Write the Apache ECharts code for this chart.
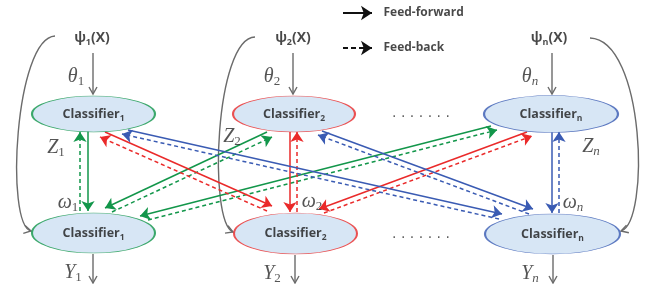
<!DOCTYPE html>
<html>
<head>
<meta charset="utf-8">
<script src="https://cdn.jsdelivr.net/npm/echarts@6/dist/echarts.min.js"></script>
<style>
  html, body { margin: 0; padding: 0; background: #fff; }
  #chart { width: 647px; height: 284px; }
</style>
</head>
<body>
<div id="chart"></div>
<script>
// classifier index subscripts and colours
const subs = ['1', '2', 'n'];
const colors = ['#12964a', '#ea2a2a', '#3a5bb3'];
const gray = '#6b6b6b';

// ellipse centres (diagram coordinates)
const topNodes = [[93.5, 114], [294, 114], [551, 114]];
const bottomNodes = [[93.5, 233], [295.5, 233.5], [552.5, 234]];
const topSizes = [[123, 36], [122, 36], [134, 37]];
const bottomSizes = [[123, 40], [123, 41], [135, 40]];

// feed-forward links (solid), grouped by target bottom classifier
const feedForward = [
  [[[88, 131], [88, 211]], [[267, 132], [105, 208]], [[491, 126], [140, 216]]],
  [[[105, 132], [272, 206]], [[290, 132], [290, 212]], [[527, 132], [319, 209]]],
  [[[128, 130], [502, 214]], [[322, 131], [533, 209]], [[552, 132], [552, 213]]],
];
// feed-back links (dashed), grouped by source bottom classifier
const feedBack = [
  [[[80, 211], [80, 132]], [[112, 212], [272, 137]], [[148, 220], [497, 130]]],
  [[[267, 211], [100, 137]], [[297, 212], [297, 132]], [[324, 213], [532, 136]]],
  [[[499, 219], [122, 134]], [[529, 214], [318, 135]], [[559, 213], [559, 132]]],
];

// grey arrows: psi -> top, bottom -> Y
const grayStraight = [
  [93, 53, 93, 94], [293, 53, 293, 94], [552, 53, 552, 94],
  [93, 254, 93, 283], [295, 255, 295, 283], [553, 255, 553, 283],
];
// grey loop curves: start, control 1, control 2, end
const grayCurves = [
  [55, 36, 15, 38, 5, 225, 31, 231],
  [255, 37, 215, 38, 208, 222, 233, 232],
  [590, 38, 645, 40, 650, 222, 621, 231],
];

// text labels
const psiLabels = [[92, 38, '1'], [293, 38, '2'], [549, 38, 'n']];
const thetaLabels = [[76, 77, '1'], [272, 77, '2'], [530, 77, 'n']];
const zLabels = [[56, 148, '1'], [232, 137, '2'], [591, 147, 'n']];
const omegaLabels = [[68, 203, '1'], [312, 202, '2'], [573, 203, 'n']];
const yLabels = [[73, 273, '1'], [272, 274, '2'], [530, 274, 'n']];
const dotLabels = [[421, 113], [421, 234]];
const legendItems = [['Feed-forward', 13, 'solid'], ['Feed-back', 48, 'dashed']];

const chart = echarts.init(document.getElementById('chart'));

const ellipsePath = 'path://M0,50 A50,50 0 1,1 100,50 A50,50 0 1,1 0,50 Z';
const sans = 'Open Sans';

const textRich = {
  c: { fontFamily: sans, fontWeight: 'bold', fontSize: 12.5, color: '#1a1a1a', lineHeight: 18 },
  cs: { fontFamily: sans, fontWeight: 'bold', fontSize: 8.5, color: '#1a1a1a', lineHeight: 8, verticalAlign: 'bottom' },
  p: { fontFamily: sans, fontWeight: 'bold', fontSize: 14, color: '#1a1a1a', lineHeight: 18 },
  ps: { fontFamily: sans, fontWeight: 'bold', fontSize: 9, color: '#1a1a1a', lineHeight: 8, verticalAlign: 'bottom' },
  v: { fontFamily: 'Liberation Serif', fontStyle: 'italic', fontSize: 20, color: '#2a2a2a', lineHeight: 22 },
  s: { fontFamily: 'Liberation Serif', fontSize: 13, color: '#2a2a2a', lineHeight: 10, verticalAlign: 'bottom' },
  si: { fontFamily: 'Liberation Serif', fontStyle: 'italic', fontSize: 13, color: '#2a2a2a', lineHeight: 10, verticalAlign: 'bottom' },
};

function subTag(s) {
  return s === 'n' ? 'si' : 's';
}

function nodeData(nodes, sizes) {
  return nodes.map((p, i) => ({
    value: p,
    symbolSize: sizes[i],
    itemStyle: { borderColor: colors[i] },
    label: { formatter: '{c|Classifier}{cs|' + subs[i] + '}' },
  }));
}

function mathData(list, letter) {
  return list.map((d) => ({
    value: [d[0], d[1]],
    label: { formatter: '{v|' + letter + '}{' + subTag(d[2]) + '|' + d[2] + '}' },
  }));
}

function chevron(from, to, len, half) {
  const dx = to[0] - from[0], dy = to[1] - from[1];
  const l = Math.sqrt(dx * dx + dy * dy);
  const ux = dx / l, uy = dy / l;
  return {
    type: 'polyline',
    shape: {
      points: [
        [to[0] - ux * len - uy * half, to[1] - uy * len + ux * half],
        to,
        [to[0] - ux * len + uy * half, to[1] - uy * len - ux * half],
      ],
    },
    style: { stroke: gray, lineWidth: 1.4, fill: null },
  };
}

const linkSeries = [];
colors.forEach((c, i) => {
  linkSeries.push({
    type: 'lines',
    coordinateSystem: 'cartesian2d',
    symbol: ['none', 'arrow'],
    symbolSize: [7, 10],
    lineStyle: { color: c, width: 1.5, opacity: 1 },
    data: feedForward[i].map((coords) => ({ coords })),
    z: 2,
  });
  linkSeries.push({
    type: 'lines',
    coordinateSystem: 'cartesian2d',
    symbol: ['none', 'arrow'],
    symbolSize: [7, 10],
    lineStyle: { color: c, width: 1.5, opacity: 1, type: [4, 3] },
    data: feedBack[i].map((coords) => ({ coords })),
    z: 2,
  });
});

const option = {
  animation: false,
  grid: { left: 0, right: 0, top: 0, bottom: 0 },
  xAxis: { type: 'value', min: 0, max: 647, show: false },
  yAxis: { type: 'value', min: 0, max: 284, inverse: true, show: false },
  series: [
    ...linkSeries,
    {
      type: 'custom',
      coordinateSystem: 'cartesian2d',
      data: grayStraight,
      renderItem: (params, api) => {
        const a = api.coord([api.value(0), api.value(1)]);
        const b = api.coord([api.value(2), api.value(3)]);
        return {
          type: 'group',
          children: [
            { type: 'line', shape: { x1: a[0], y1: a[1], x2: b[0], y2: b[1] }, style: { stroke: gray, lineWidth: 1.4 } },
            chevron(a, b, 7, 4),
          ],
        };
      },
      z: 2,
    },
    {
      type: 'custom',
      coordinateSystem: 'cartesian2d',
      data: grayCurves,
      renderItem: (params, api) => {
        const p = [0, 2, 4, 6].map((k) => api.coord([api.value(k), api.value(k + 1)]));
        return {
          type: 'group',
          children: [
            {
              type: 'bezierCurve',
              shape: {
                x1: p[0][0], y1: p[0][1], cpx1: p[1][0], cpy1: p[1][1],
                cpx2: p[2][0], cpy2: p[2][1], x2: p[3][0], y2: p[3][1],
              },
              style: { stroke: gray, lineWidth: 1.4, fill: null },
            },
            chevron(p[2], p[3], 7, 4),
          ],
        };
      },
      z: 1,
    },
    {
      type: 'scatter',
      symbol: ellipsePath,
      data: nodeData(topNodes, topSizes).concat(nodeData(bottomNodes, bottomSizes)),
      itemStyle: { color: '#cde0f2', borderWidth: 1.2 },
      label: { show: true, position: 'inside', rich: textRich },
      z: 5,
    },
    {
      type: 'scatter',
      symbolSize: 1,
      itemStyle: { color: 'rgba(0,0,0,0)' },
      label: { show: true, position: 'inside', rich: textRich },
      data: [
        ...psiLabels.map((d) => ({
          value: [d[0], d[1]],
          label: { formatter: '{p|ψ}{ps|' + d[2] + '}{p|(X)}' },
        })),
        ...mathData(thetaLabels, 'θ'),
        ...mathData(zLabels, 'Z'),
        ...mathData(omegaLabels, 'ω'),
        ...mathData(yLabels, 'Y'),
        ...dotLabels.map((d) => ({
          value: d,
          label: { formatter: '. . . . . . .', fontSize: 14, color: '#333', fontFamily: 'DejaVu Sans' },
        })),
      ],
      z: 6,
    },
    {
      type: 'lines',
      coordinateSystem: 'cartesian2d',
      symbol: ['none', 'arrow'],
      symbolSize: [9, 11],
      data: legendItems.map((d) => ({
        coords: [[343, d[1]], [372, d[1]]],
        lineStyle: { type: d[2] === 'solid' ? 'solid' : [5, 3] },
      })),
      lineStyle: { color: '#111', width: 2, opacity: 1 },
      z: 3,
    },
    {
      type: 'scatter',
      symbolSize: 1,
      itemStyle: { color: 'rgba(0,0,0,0)' },
      label: {
        show: true, position: 'right', distance: 0,
        fontFamily: sans, fontWeight: 'bold', fontSize: 12, color: '#1a1a1a',
        formatter: (p) => p.data.name,
      },
      data: legendItems.map((d) => ({ name: d[0], value: [383, d[1]] })),
      z: 6,
    },
  ],
};

chart.setOption(option);
</script>
</body>
</html>
